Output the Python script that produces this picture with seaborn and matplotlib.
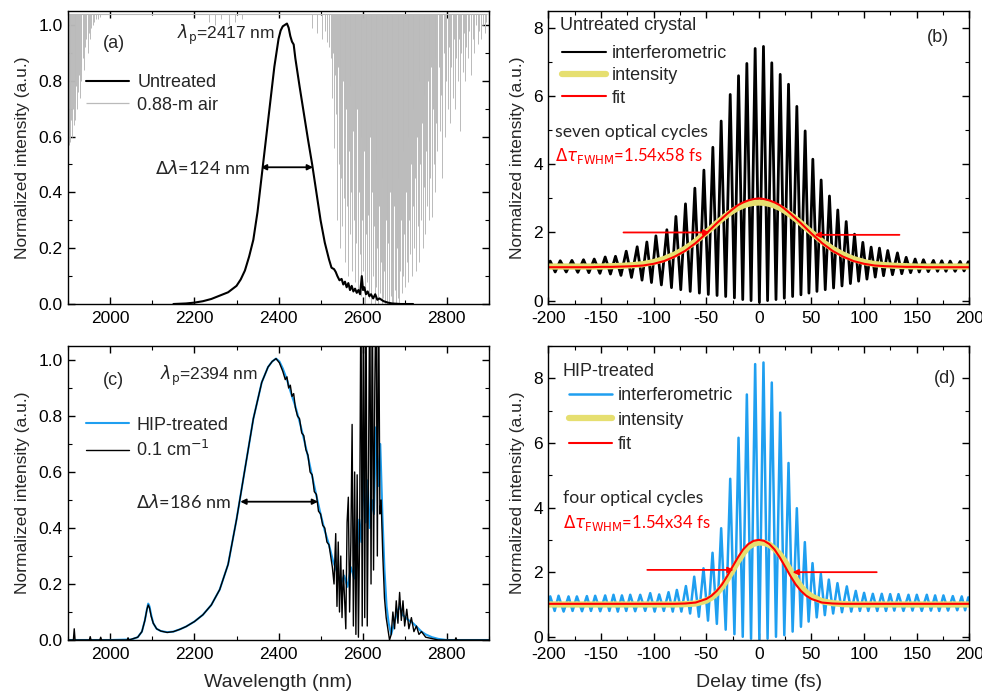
import matplotlib
matplotlib.use("Agg")
import matplotlib.pyplot as plt
from matplotlib.ticker import MultipleLocator
import numpy as np
import seaborn as sns

# ---------------- data ----------------
# (a) untreated spectrum
a_wl = [2150, 2180, 2200, 2220, 2240, 2260, 2280, 2300, 2310, 2320, 2330, 2340, 2350, 2360,
        2370, 2380, 2390, 2400, 2405, 2410, 2415, 2420, 2424, 2428, 2432, 2436, 2440, 2450,
        2460, 2470, 2480, 2490, 2500, 2510, 2520, 2526, 2532, 2536, 2540, 2545, 2550, 2554,
        2558, 2562, 2566, 2570, 2574, 2578, 2582, 2586, 2590, 2594, 2598, 2601, 2604, 2608,
        2612, 2616, 2620, 2625, 2630, 2635, 2640, 2650, 2660, 2670, 2690, 2720]
a_int = [0.0, 0.002, 0.005, 0.01, 0.018, 0.03, 0.042, 0.065, 0.088, 0.12, 0.17, 0.23, 0.33, 0.46,
         0.59, 0.72, 0.85, 0.95, 0.98, 0.995, 1.0, 1.005, 0.99, 0.96, 0.94, 0.93, 0.88, 0.78,
         0.685, 0.59, 0.5, 0.4, 0.3, 0.22, 0.16, 0.13, 0.125, 0.115, 0.1, 0.085, 0.09, 0.07,
         0.08, 0.06, 0.075, 0.05, 0.065, 0.045, 0.055, 0.04, 0.05, 0.035, 0.1, 0.05, 0.06, 0.035,
         0.045, 0.028, 0.035, 0.02, 0.035, 0.015, 0.02, 0.01, 0.005, 0.002, 0.0, 0.0]

# (a) 0.88-m air transmission: absorption line positions and their minima
air_level = 1.04
air_span = [1900, 2895]
air_wl = [1901, 1903, 1905, 1907, 1909, 1911, 1913, 1915, 1917, 1919, 1921, 1923, 1925, 1927,
          1929, 1931, 1934, 1937, 1940, 1943, 1946, 1949, 1952, 1955, 1958, 1962, 1966, 1970,
          1975, 2235, 2248, 2262, 2281, 2296, 2312, 2480, 2492, 2503, 2511, 2516,
          2521, 2524, 2526, 2529, 2531, 2534, 2536, 2538, 2541, 2543, 2545, 2547, 2549, 2551,
          2553, 2555, 2557, 2559, 2561, 2563, 2565, 2567, 2569, 2571, 2573, 2575, 2577, 2579,
          2581, 2583, 2585, 2587, 2589, 2591, 2593, 2595, 2597, 2599, 2601, 2603, 2605, 2607,
          2609, 2611, 2613, 2615, 2617, 2619, 2621, 2623, 2625, 2627, 2629, 2631, 2633, 2635,
          2637, 2639, 2641, 2643, 2645, 2647, 2649, 2651, 2653, 2655, 2657, 2659, 2661, 2663,
          2665, 2667, 2669, 2671, 2673, 2675, 2677, 2679, 2681, 2683, 2685, 2687, 2689, 2691,
          2693, 2695, 2697, 2699, 2701, 2703, 2705, 2707, 2709, 2711, 2713, 2715, 2717, 2719,
          2721, 2723, 2725, 2727, 2729, 2731, 2733, 2735, 2737, 2739, 2741, 2743, 2745, 2747,
          2749, 2751, 2753, 2755, 2757, 2759, 2761, 2763, 2765, 2767, 2769, 2771, 2773, 2775,
          2778, 2781, 2784, 2787, 2790, 2793, 2796, 2799, 2802, 2805, 2808, 2811, 2814, 2817,
          2820, 2823, 2826, 2829, 2832, 2835, 2838, 2841, 2844, 2847, 2850, 2854, 2858, 2862,
          2866, 2870, 2874, 2878, 2882, 2886, 2890, 2894]
air_min = [0.57, 0.62, 0.58, 0.66, 0.6, 0.7, 0.64, 0.72, 0.66, 0.78, 0.7, 0.76, 0.82, 0.74,
           0.85, 0.8, 0.88, 0.84, 0.92, 0.95, 0.9, 0.97, 0.95, 0.99, 1.0, 1.01, 1.02, 1.02,
           1.03, 1.01, 1.0, 1.02, 1.0, 1.01, 1.02, 0.99, 0.97, 0.95, 0.98, 0.94,
           0.92, 0.88, 0.74, 0.9, 0.56, 0.82, 0.68, 0.3, 0.85, 0.5, 0.2, 0.72, 0.45, 0.28,
           0.8, 0.38, 0.6, 0.15, 0.7, 0.35, 0.1, 0.55, 0.25, 0.78, 0.4, 0.12, 0.62, 0.3,
           0.08, 0.5, 0.22, 0.7, 0.05, 0.4, 0.18, 0.6, 0.03, 0.3, 0.12, 0.55, 0.0, 0.25,
           0.45, 0.08, 0.32, 0.02, 0.6, 0.15, 0.0, 0.4, 0.1, 0.28, 0.0, 0.5, 0.06, 0.2,
           0.0, 0.35, 0.04, 0.15, 0.0, 0.45, 0.02, 0.12, 0.0, 0.3, 0.0, 0.08, 0.22, 0.0,
           0.4, 0.03, 0.0, 0.15, 0.0, 0.35, 0.05, 0.0, 0.2, 0.02, 0.45, 0.0, 0.12, 0.3,
           0.04, 0.55, 0.1, 0.25, 0.06, 0.4, 0.15, 0.6, 0.08, 0.3, 0.18, 0.5, 0.1, 0.35,
           0.7, 0.2, 0.45, 0.12, 0.6, 0.28, 0.8, 0.15, 0.5, 0.3, 0.65, 0.2, 0.42, 0.75,
           0.25, 0.55, 0.35, 0.8, 0.3, 0.6, 0.45, 0.85, 0.31, 0.7, 0.5, 0.88, 0.4, 0.65,
           0.55, 0.85, 0.62, 0.75, 0.45, 0.9, 0.6, 0.8, 0.7, 0.92, 0.65, 0.85, 0.74, 0.95,
           0.7, 0.88, 0.8, 0.95, 0.62, 0.9, 0.83, 0.97, 0.8, 0.92, 0.88, 0.98, 0.82, 0.95,
           0.9, 1.0, 0.93, 0.98, 0.95, 1.0, 0.97, 1.01]

# (c) HIP-treated spectrum and the 0.1 cm-1 resolution spectrum
c_wl = [1900, 2000, 2050, 2065, 2075, 2082, 2087, 2090, 2093, 2097, 2102, 2110, 2120, 2135,
        2150, 2165, 2180, 2200, 2220, 2240, 2260, 2280, 2300, 2320, 2340, 2360, 2375, 2385,
        2394, 2402, 2410, 2420, 2430, 2440, 2450, 2460, 2470, 2480, 2490, 2500, 2510, 2520,
        2530, 2540, 2548, 2556, 2564, 2572, 2580, 2586, 2592, 2597, 2602, 2607, 2612, 2617,
        2622, 2627, 2632, 2637, 2642, 2647, 2652, 2657, 2662, 2668, 2675, 2682, 2688, 2695,
        2702, 2710, 2720, 2730, 2740, 2750, 2765, 2780, 2800, 2900]
c_hip = [0.0, 0.0, 0.002, 0.01, 0.03, 0.07, 0.11, 0.13, 0.12, 0.09, 0.06, 0.04, 0.032, 0.028,
         0.03, 0.038, 0.048, 0.066, 0.09, 0.125, 0.18, 0.27, 0.43, 0.61, 0.79, 0.92, 0.975, 0.995,
         1.005, 0.995, 0.97, 0.93, 0.88, 0.835, 0.78, 0.72, 0.655, 0.585, 0.515, 0.45, 0.39, 0.34,
         0.28, 0.24, 0.2, 0.23, 0.19, 0.26, 0.22, 0.3, 0.43, 0.35, 0.61, 0.42, 0.57, 0.4,
         0.5, 0.45, 0.76, 0.55, 0.7, 0.45, 0.25, 0.12, 0.06, 0.02, 0.06, 0.1, 0.12, 0.09,
         0.08, 0.07, 0.06, 0.045, 0.03, 0.02, 0.01, 0.004, 0.0, 0.0]

c_hr_wl = [1900, 1912, 1914, 1916, 1940, 1950, 1952, 1954, 1975, 1977, 1979, 2000, 2040, 2042,
           2044, 2065, 2075, 2082, 2087, 2090, 2093, 2097, 2102, 2110, 2120, 2135, 2150, 2165,
           2180, 2200, 2220, 2240, 2260, 2280, 2300, 2320, 2340, 2360, 2375, 2385, 2394, 2402,
           2410, 2416, 2420, 2424, 2428, 2432, 2436, 2440, 2445, 2450, 2455, 2460, 2465, 2470,
           2475, 2480, 2485, 2490, 2495, 2500, 2505, 2510, 2515, 2520, 2524, 2528, 2532, 2536,
           2539, 2542, 2545, 2548, 2551, 2554, 2557, 2560, 2563, 2566, 2569, 2572, 2575, 2578,
           2581, 2584, 2587, 2590, 2593, 2596, 2599, 2602, 2605, 2608, 2611, 2614, 2617, 2620,
           2623, 2626, 2629, 2632, 2635, 2638, 2641, 2644, 2648, 2652, 2656, 2660, 2664, 2668,
           2672, 2676, 2680, 2684, 2688, 2692, 2696, 2700, 2705, 2710, 2716, 2722, 2728, 2734,
           2740, 2750, 2765, 2780, 2800, 2820, 2822, 2824, 2900]
c_hr = [0.0, 0.0, 0.04, 0.0, 0.0, 0.0, 0.012, 0.0, 0.0, 0.01, 0.0, 0.0, 0.0, 0.008,
        0.0, 0.01, 0.03, 0.07, 0.11, 0.125, 0.115, 0.085, 0.06, 0.04, 0.032, 0.027, 0.03, 0.038,
        0.048, 0.066, 0.09, 0.125, 0.18, 0.27, 0.43, 0.61, 0.79, 0.92, 0.975, 0.995, 1.005, 0.99,
        0.96, 0.93, 0.94, 0.9, 0.91, 0.87, 0.88, 0.83, 0.8, 0.79, 0.74, 0.73, 0.68, 0.66,
        0.6, 0.59, 0.53, 0.52, 0.46, 0.45, 0.41, 0.4, 0.35, 0.34, 0.3, 0.26, 0.2, 0.38,
        0.12, 0.35, 0.1, 0.3, 0.08, 0.25, 0.15, 0.04, 0.42, 0.51, 0.1, 0.35, 0.77, 0.05,
        0.6, 0.02, 0.59, 0.01, 0.4, 1.3, 0.05, 1.3, 0.08, 1.3, 0.05, 0.6, 1.3, 0.2,
        1.3, 0.25, 0.9, 1.3, 0.3, 1.3, 0.45, 0.5, 0.3, 0.15, 0.08, 0.04, 0.0, 0.02,
        0.1, 0.04, 0.14, 0.06, 0.17, 0.07, 0.14, 0.05, 0.11, 0.04, 0.08, 0.03, 0.05, 0.02,
        0.03, 0.01, 0.005, 0.0, 0.0, 0.0, 0.008, 0.0, 0.0]

# (b) untreated autocorrelation: fringe extrema (peak / trough alternating)
b_fr_t = [-200, -198.2, -193.5, -188.7, -183, -177.6, -172, -166.6, -161.5, -156.4, -151, -146,
          -141, -136.2, -131, -126, -121, -115.6, -111, -106.4, -102, -97.8, -92.6, -87.4,
          -83, -78.8, -74.2, -69.7, -65.2, -60.8, -56.5, -52.2, -48, -43.7, -39.7, -35.8,
          -31.5, -27.2, -23.2, -19.3, -15.3, -11.4, -7.4, -3.5, 0.5, 4.4, 8.3, 12.3, 16.3,
          20.3, 24.2, 28.2, 32.1, 36.1, 40, 44, 47.6, 51.3, 55.2, 59.2, 63.1, 67.1, 71, 75,
          79, 83, 87, 90.9, 94.8, 98.8, 102.7, 106.7, 110.6, 114.6, 118.5, 122.5, 127, 131.7,
          135.8, 140, 144.2, 148.5, 152.4, 156.4, 161, 165.9, 169.8, 173.8, 177.8, 181.8,
          186.5, 191.3, 195, 199, 200]
b_fr_v = [1.05, 1.16, 0.84, 1.17, 0.84, 1.18, 0.83, 1.2, 0.82, 1.22, 0.8, 1.28,
          0.78, 1.3, 0.74, 1.45, 0.68, 1.58, 0.6, 1.72, 0.53, 1.9, 0.46, 2.08,
          0.38, 2.47, 0.32, 2.84, 0.27, 3.3, 0.22, 3.83, 0.18, 4.5, 0.15, 5.27,
          0.12, 6.05, 0.08, 6.6, 0.03, 6.96, 0.0, 7.4, -0.05, 7.46, 0.0, 6.98, 0.03,
          6.64, 0.07, 6.35, 0.12, 5.7, 0.17, 4.98, 0.22, 4.15, 0.27, 3.54, 0.32, 3.07, 0.37, 2.66,
          0.43, 2.32, 0.5, 1.95, 0.57, 1.71, 0.63, 1.57, 0.69, 1.54, 0.73, 1.47, 0.76, 1.4,
          0.79, 1.27, 0.82, 1.22, 0.84, 1.2, 0.85, 1.18, 0.86, 1.17, 0.86, 1.16,
          0.86, 1.15, 0.87, 1.14, 1.0]

# (d) HIP-treated autocorrelation: fringe extrema
d_fr_t = [-200, -198.2, -194, -190.3, -185.5, -180.8, -177, -172.9, -168, -163.4, -159.5, -155.5,
          -150.7, -146, -142, -138.1, -134, -130.1, -126, -122.2, -117.5, -112.7, -108, -103.2,
          -99, -94.7, -90.3, -85.8, -81.8, -77.9, -73.6, -69.3, -65.3, -61.4, -57, -52.6,
          -48.3, -44, -39.9, -35.8, -31.5, -27.2, -23.2, -19.3, -15.3, -11.4, -7.4, -3.5,
          0.5, 4.4, 8.3, 12.3, 16.3, 20.3, 24.2, 28.2, 32.1, 36.1, 40, 43.7, 47.3, 51, 55,
          58.9, 62.7, 66.5, 70.6, 74.7, 79, 83.6, 87.8, 92.1, 96, 100, 104, 108.3, 112.5, 116.8,
          120.8, 124.8, 128.7, 132.7, 137.4, 142.2, 146, 150.1, 154.8, 159.6, 163.5, 167.5,
          171.4, 175.4, 179.8, 184.3, 188.5, 192.8, 196, 199, 200]
d_fr_v = [1.0, 1.25, 0.8, 1.27, 0.78, 1.25, 0.8, 1.25, 0.79, 1.26, 0.8, 1.27,
          0.79, 1.28, 0.8, 1.3, 0.78, 1.28, 0.8, 1.3, 0.79, 1.3, 0.8, 1.35,
          0.78, 1.31, 0.8, 1.38, 0.78, 1.45, 0.78, 1.57, 0.72, 1.86, 0.62, 2.12,
          0.5, 2.6, 0.4, 3.36, 0.22, 4.89, 0.08, 6.16, 0.0, 7.5, -0.06, 8.44,
          -0.08, 8.49, -0.06, 7.87, 0.0, 6.94, 0.05, 5.38, 0.16, 3.98, 0.31, 2.93, 0.47, 2.28, 0.6,
          1.95, 0.67, 1.77, 0.72, 1.66, 0.76, 1.56, 0.78, 1.42, 0.8, 1.36, 0.8, 1.33, 0.8, 1.33,
          0.8, 1.32, 0.81, 1.32, 0.8, 1.3, 0.81, 1.3, 0.8, 1.3, 0.81, 1.28,
          0.8, 1.28, 0.81, 1.26, 0.82, 1.25, 0.82, 1.22, 1.0]

# intensity autocorrelation and fit
env_t = [-200, -160, -150, -140, -130, -120, -110, -100, -90, -80, -70, -60, -50, -45, -40,
         -35, -30, -25, -20, -15, -10, -5, 0, 5, 10, 15, 20, 25, 30, 35, 40, 45, 50, 60, 70,
         80, 90, 100, 110, 120, 130, 140, 150, 160, 200]
b_int = [1.0, 1.0, 1.0, 1.01, 1.02, 1.04, 1.07, 1.13, 1.22, 1.35, 1.52, 1.74, 2.0, 2.13, 2.27,
         2.4, 2.52, 2.63, 2.72, 2.79, 2.84, 2.87, 2.88, 2.87, 2.84, 2.79, 2.72, 2.63, 2.52, 2.4,
         2.27, 2.13, 2.0, 1.74, 1.52, 1.35, 1.22, 1.13, 1.07, 1.04, 1.02, 1.01, 1.0, 1.0, 1.0]
b_fit = [0.98, 0.98, 0.99, 0.99, 1.0, 1.01, 1.03, 1.08, 1.16, 1.29, 1.46, 1.69, 1.97, 2.12,
         2.27, 2.41, 2.55, 2.68, 2.8, 2.88, 2.94, 2.98, 3.0, 2.98, 2.94, 2.88, 2.8, 2.68, 2.55,
         2.41, 2.27, 2.12, 1.97, 1.69, 1.46, 1.29, 1.16, 1.08, 1.03, 1.01, 1.0, 0.99, 0.99, 0.98,
         0.98]
d_int = [1.0, 1.0, 1.0, 1.0, 1.0, 1.0, 1.0, 1.0, 1.0, 1.0, 1.01, 1.03, 1.12, 1.21, 1.35,
         1.54, 1.78, 2.05, 2.33, 2.58, 2.78, 2.88, 2.92, 2.91, 2.85, 2.72, 2.55, 2.32, 2.05, 1.79,
         1.55, 1.37, 1.25, 1.1, 1.04, 1.01, 1.0, 1.0, 1.0, 1.0, 1.0, 1.0, 1.0, 1.0, 1.0]
d_fit = [1.02, 1.02, 1.02, 1.02, 1.02, 1.02, 1.02, 1.02, 1.02, 1.02, 1.03, 1.06, 1.17, 1.27,
         1.42, 1.62, 1.88, 2.17, 2.45, 2.7, 2.87, 2.97, 3.0, 2.97, 2.87, 2.7, 2.45, 2.17, 1.88,
         1.62, 1.42, 1.27, 1.17, 1.06, 1.03, 1.02, 1.02, 1.02, 1.02, 1.02, 1.02, 1.02, 1.02,
         1.02, 1.02]

# FWHM markers
a_fwhm = [2358, 2482, 0.49]
c_fwhm = [2309, 2494, 0.494]
b_arrows = [(-128.6, -47, 2.0), (133.6, 53, 1.93)]
d_arrows = [(-106, -24, 2.07), (112, 32, 2.0)]

# ---------------- style ----------------
sns.set_theme(style="ticks")
plt.rcParams["font.family"] = ["Liberation Sans", "DejaVu Sans"]
plt.rcParams.update({
    "axes.linewidth": 1.0,
    "axes.edgecolor": "black",
    "axes.unicode_minus": False,
    "xtick.direction": "in", "ytick.direction": "in",
    "xtick.top": True, "ytick.right": True,
    "xtick.major.size": 5, "ytick.major.size": 5,
    "xtick.minor.size": 3, "ytick.minor.size": 3,
    "xtick.major.width": 1.0, "ytick.major.width": 1.0,
    "xtick.minor.width": 0.8, "ytick.minor.width": 0.8,
    "xtick.major.pad": 5, "ytick.major.pad": 4,
    "xtick.labelsize": 12.5, "ytick.labelsize": 12.5,
    "axes.labelsize": 12.5,
    "xtick.color": "black", "ytick.color": "black",
    "mathtext.fontset": "dejavusans",
})

BLUE = "#1f9ff0"
YELLOW = "#e6df70"
GRAY = "#bababa"
ALT_FONT = ["Lato", "DejaVu Sans"]

fig = plt.figure(figsize=(9.82, 7.0), dpi=100)
ax_a = fig.add_axes([0.0696, 0.5657, 0.4281, 0.4186])
ax_b = fig.add_axes([0.5584, 0.5657, 0.4287, 0.4186])
ax_c = fig.add_axes([0.0696, 0.0857, 0.4281, 0.4200])
ax_d = fig.add_axes([0.5584, 0.0857, 0.4287, 0.4200])


def spectrum_axes(ax):
    ax.set_xlim(1900, 2900)
    ax.set_ylim(0, 1.05)
    ax.xaxis.set_major_locator(MultipleLocator(200))
    ax.xaxis.set_minor_locator(MultipleLocator(100))
    ax.yaxis.set_major_locator(MultipleLocator(0.2))
    ax.yaxis.set_minor_locator(MultipleLocator(0.1))
    ax.set_ylabel("Normalized intensity (a.u.)", labelpad=6)
    ax.tick_params(which="both", top=True, right=True)


def ac_axes(ax, ytop):
    ax.set_xlim(-200, 200)
    ax.set_ylim(-0.1, ytop)
    ax.xaxis.set_major_locator(MultipleLocator(50))
    ax.xaxis.set_minor_locator(MultipleLocator(25))
    ax.yaxis.set_major_locator(MultipleLocator(2))
    ax.yaxis.set_minor_locator(MultipleLocator(1))
    ax.set_ylabel("Normalized intensity (a.u.)", labelpad=6)
    ax.tick_params(which="both", top=True, right=True)


def fwhm_arrow(ax, spec, color="black", head="<|-|>"):
    ax.annotate("", xy=(spec[1], spec[2]), xytext=(spec[0], spec[2]),
                arrowprops=dict(arrowstyle=head, color=color, lw=1.3,
                                mutation_scale=8, shrinkA=0, shrinkB=0))


# ---- (a)
ax = ax_a
ax.hlines(air_level, air_span[0], air_span[1], color=GRAY, lw=0.8)
ax.vlines(air_wl, air_min, air_level, color=GRAY, lw=0.7, label="0.88-m air")
sns.lineplot(x=a_wl, y=a_int, ax=ax, color="black", lw=1.5, estimator=None, sort=False,
             label="Untreated", zorder=3)
spectrum_axes(ax)
h, l = ax.get_legend_handles_labels()
order = [l.index("Untreated"), l.index("0.88-m air")]
leg = ax.legend([h[i] for i in order], [l[i] for i in order], loc="upper left",
                bbox_to_anchor=(0.02, 0.815), frameon=False, fontsize=13, borderpad=0,
                handlelength=2.4, handletextpad=0.45, labelspacing=0.3)
leg.legend_handles[1].set_linewidth(0.9)
ax.text(0.083, 0.89, "(a)", transform=ax.transAxes, fontsize=13, va="center")
ax.text(0.259, 0.92, r"$\lambda_\mathrm{p}$=2417 nm", transform=ax.transAxes,
        fontsize=12.5, va="center")
fwhm_arrow(ax, a_fwhm)
ax.text(0.432, 0.465, r"$\Delta\lambda$=124 nm", transform=ax.transAxes, fontsize=13,
        ha="right", va="center", family=ALT_FONT)

# ---- (b)
ax = ax_b
sns.lineplot(x=b_fr_t, y=b_fr_v, ax=ax, color="black", lw=2.0, estimator=None, sort=False,
             label="interferometric")
sns.lineplot(x=env_t, y=b_int, ax=ax, color=YELLOW, lw=4.5, estimator=None, sort=False,
             label="intensity")
sns.lineplot(x=env_t, y=b_fit, ax=ax, color="red", lw=1.5, estimator=None, sort=False,
             label="fit")
ac_axes(ax, 8.5)
leg = ax.legend(loc="upper left", bbox_to_anchor=(0.012, 0.915), frameon=False, fontsize=13,
                borderpad=0, handlelength=2.4, handletextpad=0.35, labelspacing=0.3)
leg.legend_handles[0].set_linewidth(1.5)
ax.text(0.028, 0.949, "Untreated crystal", transform=ax.transAxes, fontsize=13, va="center")
ax.text(0.926, 0.911, "(b)", transform=ax.transAxes, fontsize=13, va="center", ha="center")
ax.text(0.016, 0.587, "seven optical cycles", transform=ax.transAxes, fontsize=12.7,
        va="center", family=ALT_FONT)
ax.text(0.016, 0.506, r"$\Delta\tau_\mathrm{FWHM}$=1.54x58 fs", transform=ax.transAxes,
        fontsize=12, va="center", color="red", family=ALT_FONT)
for x0, x1, y in b_arrows:
    fwhm_arrow(ax, (x0, x1, y), color="red", head="-|>")

# ---- (c)
ax = ax_c
sns.lineplot(x=c_wl, y=c_hip, ax=ax, color=BLUE, lw=1.5, estimator=None, sort=False,
             label="HIP-treated")
sns.lineplot(x=c_hr_wl, y=c_hr, ax=ax, color="black", lw=1.0, estimator=None, sort=False,
             label="0.1 cm$^{-1}$")
spectrum_axes(ax)
ax.set_xlabel("Wavelength (nm)", fontsize=14, labelpad=9)
ax.legend(loc="upper left", bbox_to_anchor=(0.02, 0.79), frameon=False, fontsize=13,
          borderpad=0, handlelength=2.4, handletextpad=0.4, labelspacing=0.35)
ax.text(0.083, 0.884, "(c)", transform=ax.transAxes, fontsize=13, va="center")
ax.text(0.218, 0.90, r"$\lambda_\mathrm{p}$=2394 nm", transform=ax.transAxes,
        fontsize=12.5, va="center")
fwhm_arrow(ax, c_fwhm)
ax.text(0.387, 0.469, r"$\Delta\lambda$=186 nm", transform=ax.transAxes, fontsize=13,
        ha="right", va="center", family=ALT_FONT)

# ---- (d)
ax = ax_d
sns.lineplot(x=d_fr_t, y=d_fr_v, ax=ax, color=BLUE, lw=1.8, estimator=None, sort=False,
             label="interferometric")
sns.lineplot(x=env_t, y=d_int, ax=ax, color=YELLOW, lw=4.5, estimator=None, sort=False,
             label="intensity")
sns.lineplot(x=env_t, y=d_fit, ax=ax, color="red", lw=1.5, estimator=None, sort=False,
             label="fit")
ac_axes(ax, 9.0)
ax.set_xlabel("Delay time (fs)", fontsize=14, labelpad=9)
ax.legend(loc="upper left", bbox_to_anchor=(0.028, 0.89), frameon=False, fontsize=13,
          borderpad=0, handlelength=2.4, handletextpad=0.3, labelspacing=0.4)
ax.text(0.033, 0.912, "HIP-treated", transform=ax.transAxes, fontsize=13, va="center")
ax.text(0.942, 0.891, "(d)", transform=ax.transAxes, fontsize=13, va="center", ha="center")
ax.text(0.035, 0.483, "four optical cycles", transform=ax.transAxes, fontsize=12.7,
        va="center", family=ALT_FONT)
ax.text(0.035, 0.398, r"$\Delta\tau_\mathrm{FWHM}$=1.54x34 fs", transform=ax.transAxes,
        fontsize=12, va="center", color="red", family=ALT_FONT)
for x0, x1, y in d_arrows:
    fwhm_arrow(ax, (x0, x1, y), color="red", head="-|>")

fig.savefig("out.png", dpi=100)
